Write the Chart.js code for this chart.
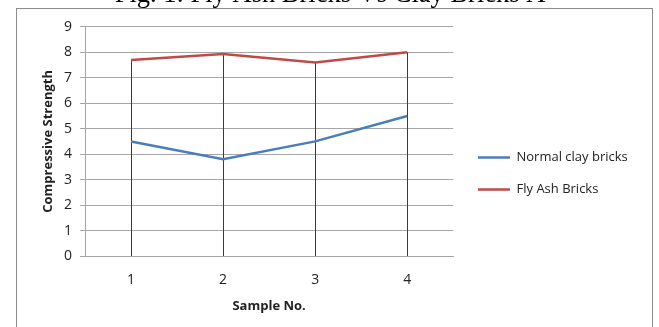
<!DOCTYPE html>
<html>
<head>
<meta charset="utf-8">
<script src="https://cdn.jsdelivr.net/npm/chart.js@4.4.1/dist/chart.umd.min.js"></script>
<style>
    html, body { margin: 0; padding: 0; background: #fff; overflow: hidden; }
    #wrap { position: relative; width: 659px; height: 327px; overflow: hidden; }
    /* canvas is taller than the window so the title gets cut off like in the figure */
    #StockChart { position: absolute; left: 0; top: -40px; }
</style>
</head>
<body>
<div id="wrap"><canvas id="StockChart" width="659" height="367"></canvas></div>
<script>
// Chart values.
const sampleNos = ['1', '2', '3', '4'];
const normalClayBricks = [4.5, 3.8, 4.5, 5.5];
const flyAshBricks = [7.7, 7.93, 7.6, 8.0];
const yMin = 0;
const yMax = 9;
const yStep = 1;

const titleText = 'Fig. 1: Fly Ash Bricks Vs Clay Bricks A';
const yTitle = 'Compressive Strength';
const xTitle = 'Sample No.';

const OFF = 40; // how far the canvas is pushed up
const gridGray = '#a6a6a6';

// White page + the outer chart frame.
const framePlugin = {
    id: 'frame',
    beforeDraw(chart) {
        const ctx = chart.ctx;
        ctx.save();
        ctx.fillStyle = '#fff';
        ctx.fillRect(0, 0, chart.width, chart.height);
        ctx.strokeStyle = '#8c8c8c';
        ctx.lineWidth = 1;
        ctx.strokeRect(16.5, OFF + 8.5, 636, chart.height);
        ctx.restore();
    }
};

// Drop lines from the highest series down to the x axis.
const dropLines = {
    id: 'dropLines',
    beforeDatasetsDraw(chart) {
        const ctx = chart.ctx;
        const xs = chart.scales.x;
        const ys = chart.scales.y;
        ctx.save();
        ctx.strokeStyle = '#3a3a3a';
        ctx.lineWidth = 1;
        sampleNos.forEach((s, i) => {
            const top = Math.max(...chart.data.datasets.map(d => d.data[i]));
            const x = Math.round(xs.getPixelForValue(i)) + 0.5;
            ctx.beginPath();
            ctx.moveTo(x, ys.getPixelForValue(top));
            ctx.lineTo(x, ys.getPixelForValue(yMin));
            ctx.stroke();
        });
        ctx.restore();
    }
};

// Move the legend (and centre the title on the page) like in the figure.
const legendSpot = {
    id: 'legendSpot',
    afterLayout(chart) {
        const lg = chart.legend;
        const dx = 478 - (lg.left + lg.options.labels.padding);
        lg.left += dx;
        lg.right += dx;
        lg.top += 30;
        lg.bottom += 30;

        const tb = chart.titleBlock;
        const tx = 330 - (tb.left + tb.right) / 2;
        tb.left += tx;
        tb.right += tx;
    }
};

const ctx = document.getElementById('StockChart').getContext('2d');
window.myChart = new Chart(ctx, {
    type: 'line',
    data: {
        labels: sampleNos,
        datasets: [{
            label: 'Normal clay bricks',
            data: normalClayBricks,
            borderColor: '#4a7ebb',
            backgroundColor: '#4a7ebb',
            borderWidth: 2.5,
            pointRadius: 0,
            tension: 0
        }, {
            label: 'Fly Ash Bricks',
            data: flyAshBricks,
            borderColor: '#be4b48',
            backgroundColor: '#be4b48',
            borderWidth: 2.5,
            pointRadius: 0,
            tension: 0
        }]
    },
    options: {
        responsive: false,
        animation: false,
        layout: { padding: { left: 0, right: 27, top: 0, bottom: 0 } },
        plugins: {
            title: {
                display: true,
                text: titleText,
                color: '#000',
                font: { family: 'Liberation Serif', size: 26.5, weight: 'normal' },
                padding: { top: 19, bottom: 16 }
            },
            legend: {
                position: 'right',
                maxWidth: 300,
                labels: {
                    usePointStyle: true,
                    pointStyle: 'line',
                    pointStyleWidth: 32,
                    padding: 19,
                    color: '#222',
                    font: { family: 'Open Sans', size: 13 }
                }
            },
            tooltip: { enabled: false }
        },
        scales: {
            x: {
                offset: true,
                grid: { display: false, drawTicks: false },
                border: { display: true, color: gridGray },
                ticks: { color: '#222', padding: 16, font: { family: 'Open Sans', size: 14 } },
                title: {
                    display: true,
                    text: xTitle,
                    color: '#222',
                    font: { family: 'Open Sans', size: 13, weight: 'bold' },
                    padding: { top: 0, bottom: 13 }
                },
                afterFit: scale => { scale.height = 71; }
            },
            y: {
                min: yMin,
                max: yMax,
                grid: { color: gridGray, tickLength: 5 },
                border: { color: gridGray },
                ticks: { stepSize: yStep, color: '#222', padding: 8, font: { family: 'Open Sans', size: 14 } },
                title: {
                    display: true,
                    text: yTitle,
                    color: '#222',
                    font: { family: 'Open Sans', size: 13, weight: 'bold' },
                    padding: { top: 40, bottom: 0 }
                },
                afterFit: scale => { scale.width = 85; }
            }
        }
    },
    plugins: [framePlugin, dropLines, legendSpot]
});
</script>
</body>
</html>
